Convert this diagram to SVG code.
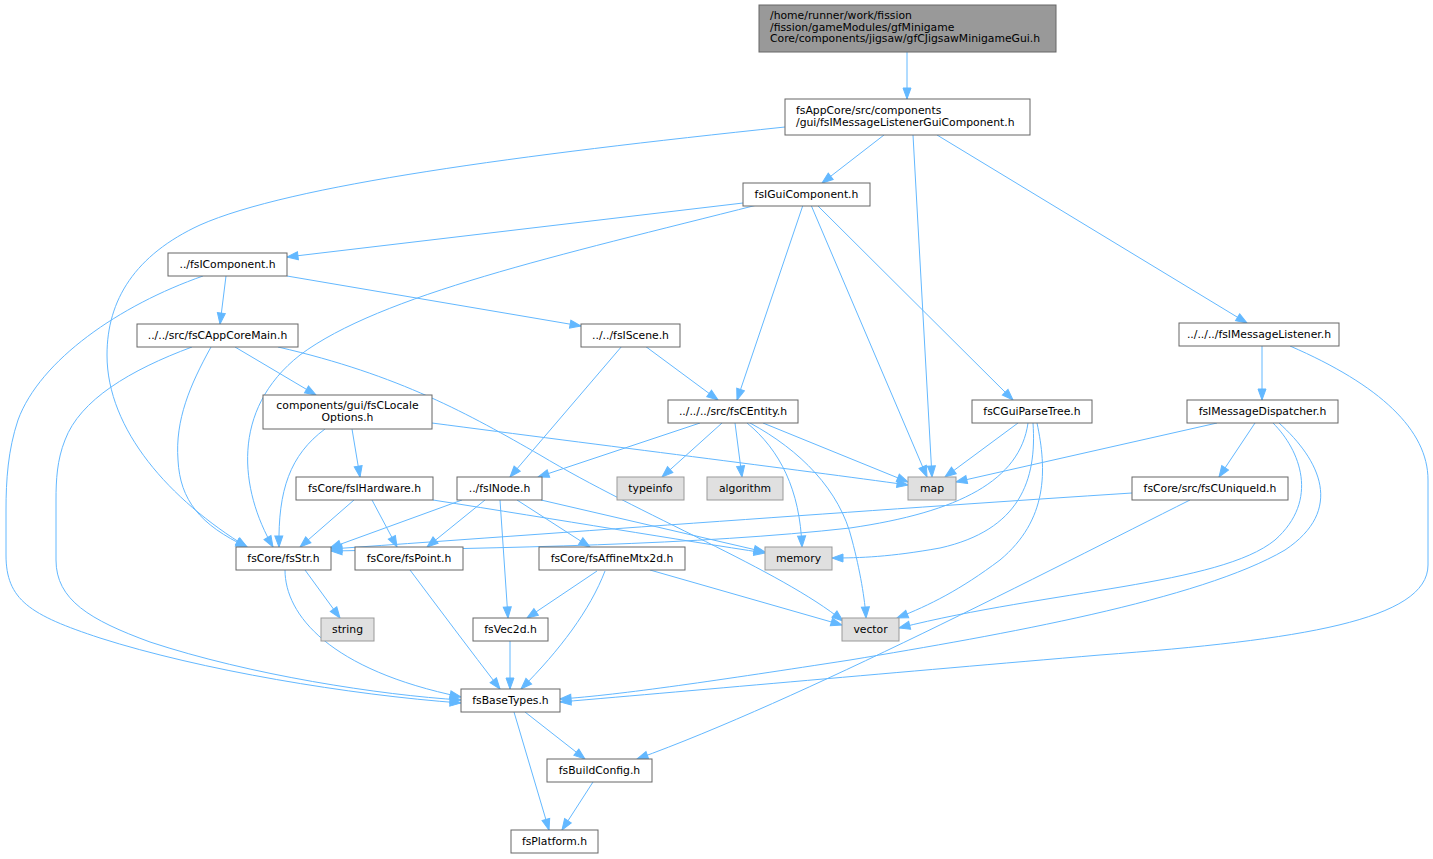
<svg xmlns="http://www.w3.org/2000/svg" width="1433" height="859" viewBox="0 0 1433 859">
<style>
.bg{fill:#ffffff}
.n rect{fill:#ffffff;stroke:#666666;stroke-width:1}
.root rect{fill:#999999;stroke:#666666;stroke-width:1}
.sys rect{fill:#e0e0e0;stroke:#999999;stroke-width:1}
text{font-family:"DejaVu Sans","Liberation Sans",sans-serif;font-size:10.8px;fill:#000000}
.c{text-anchor:middle}
#edges path{fill:none;stroke:#63b8ff;stroke-width:1;marker-end:url(#arr)}
</style>
<defs>
<marker id="arr" markerUnits="userSpaceOnUse" markerWidth="12" markerHeight="9" refX="11" refY="4" orient="auto" overflow="visible">
<path d="M0,0 L11,4 L0,8 Z" fill="#63b8ff" stroke="#63b8ff" stroke-width="1"/>
</marker>
</defs>
<rect class="bg" x="0" y="0" width="1433" height="859"/>
<g id="edges">
<path d="M907,52 L907,99"/>
<path d="M884,135 L822,183"/>
<path d="M913,135 L932,477"/>
<path d="M937,135 L1247,323"/>
<path d="M785,127 C520,155 290,185 200,225 C135,255 107,300 107,355 C107,430 170,500 247,547"/>
<path d="M743,203 L287,257"/>
<path d="M757,205 C560,255 380,295 300,355 C230,410 240,490 273,547"/>
<path d="M803,205 L737,400"/>
<path d="M811,205 L927,477"/>
<path d="M817,205 L1013,400"/>
<path d="M226,276 L220,324"/>
<path d="M287,276 L581,326"/>
<path d="M203,276 C120,305 40,360 18,420 C8,450 6,480 6,510 L6,555 C6,600 30,615 100,638 C200,670 350,695 461,703"/>
<path d="M192,347 C130,370 80,400 65,440 C57,460 56,480 56,500 L56,560 C56,600 90,620 150,642 C250,675 380,695 461,700"/>
<path d="M211,347 C190,385 175,420 178,460 C180,500 200,525 247,547"/>
<path d="M235,347 L316,395"/>
<path d="M278,347 C400,375 470,415 540,455 C640,515 780,570 843,621"/>
<path d="M325,429 C290,455 278,490 279,547"/>
<path d="M352,429 L360,477"/>
<path d="M432,423 C600,445 800,470 908,485"/>
<path d="M354,500 L300,547"/>
<path d="M372,500 L397,547"/>
<path d="M433,500 C560,520 680,540 765,553"/>
<path d="M622,346 L510,477"/>
<path d="M645,346 L718,400"/>
<path d="M700,423 L538,477"/>
<path d="M722,423 L662,477"/>
<path d="M735,423 L742,477"/>
<path d="M747,423 C780,450 800,490 802,547"/>
<path d="M750,423 C800,450 840,490 852,540 C860,570 865,600 866,618"/>
<path d="M763,423 L908,482"/>
<path d="M1018,423 L945,477"/>
<path d="M1217,423 L956,482"/>
<path d="M462,500 L330,548"/>
<path d="M485,500 L427,547"/>
<path d="M500,500 L508,618"/>
<path d="M517,500 L590,547"/>
<path d="M541,500 L765,552"/>
<path d="M650,570 L842,625"/>
<path d="M597,571 L527,618"/>
<path d="M605,571 C590,610 560,650 521,689"/>
<path d="M410,570 C440,610 470,650 500,689"/>
<path d="M305,570 L340,618"/>
<path d="M285,570 C285,615 330,670 461,697"/>
<path d="M510,641 L510,689"/>
<path d="M525,712 L585,759"/>
<path d="M514,712 L549,830"/>
<path d="M593,782 L562,830"/>
<path d="M1190,500 C1050,570 800,700 637,759"/>
<path d="M1132,493 C900,508 600,530 331,549"/>
<path d="M1028,423 C1020,480 960,512 850,528 C700,545 500,548 331,551"/>
<path d="M1033,423 C1037,480 1020,530 940,548 C890,557 860,558 832,558"/>
<path d="M1037,423 C1047,470 1048,520 1000,560 C960,590 930,605 897,618"/>
<path d="M1255,423 L1219,477"/>
<path d="M1273,423 C1300,450 1320,500 1275,540 C1220,585 1050,590 899,628"/>
<path d="M1279,423 C1320,460 1345,510 1285,550 C1200,600 1000,635 850,660 C720,680 620,695 560,699"/>
<path d="M1262,346 L1262,400"/>
<path d="M1290,346 C1380,385 1428,430 1428,480 L1428,565 C1428,620 1300,640 1100,655 C900,672 700,690 560,702"/>
</g>
<g id="node-root" class="root"><rect x="759" y="5" width="297" height="47"/><text x="770" y="19">/home/runner/work/fission</text><text x="770" y="30.5">/fission/gameModules/gfMinigame</text><text x="770" y="42">Core/components/jigsaw/gfCJigsawMinigameGui.h</text></g>
<g id="node-listenergui" class="n"><rect x="785" y="99" width="245" height="36"/><text x="796" y="113.5">fsAppCore/src/components</text><text x="796" y="125.5">/gui/fsIMessageListenerGuiComponent.h</text></g>
<g id="node-guicomponent" class="n"><rect x="743" y="183" width="127" height="23"/><text class="c" x="806.5" y="197.5">fsIGuiComponent.h</text></g>
<g id="node-component" class="n"><rect x="168" y="253" width="119" height="23"/><text class="c" x="227.5" y="267.5">../fsIComponent.h</text></g>
<g id="node-appcoremain" class="n"><rect x="137" y="324" width="161" height="23"/><text class="c" x="217.5" y="338.5">../../src/fsCAppCoreMain.h</text></g>
<g id="node-scene" class="n"><rect x="581" y="324" width="99" height="23"/><text class="c" x="630.5" y="338.5">../../fsIScene.h</text></g>
<g id="node-msglistener" class="n"><rect x="1179" y="323" width="160" height="23"/><text class="c" x="1259" y="337.5">../../../fsIMessageListener.h</text></g>
<g id="node-parsetree" class="n"><rect x="972" y="400" width="120" height="23"/><text class="c" x="1032" y="414.5">fsCGuiParseTree.h</text></g>
<g id="node-dispatcher" class="n"><rect x="1187" y="400" width="151" height="23"/><text class="c" x="1262.5" y="414.5">fsIMessageDispatcher.h</text></g>
<g id="node-entity" class="n"><rect x="668" y="400" width="130" height="23"/><text class="c" x="733" y="414.5">../../../src/fsCEntity.h</text></g>
<g id="node-locale" class="n"><rect x="263" y="395" width="169" height="34"/><text class="c" x="347.5" y="409">components/gui/fsCLocale</text><text class="c" x="347.5" y="420.5">Options.h</text></g>
<g id="node-uniqueid" class="n"><rect x="1132" y="477" width="156" height="23"/><text class="c" x="1210" y="491.5">fsCore/src/fsCUniqueId.h</text></g>
<g id="node-typeinfo" class="sys"><rect x="617" y="477" width="67" height="23"/><text class="c" x="650.5" y="491.5">typeinfo</text></g>
<g id="node-algorithm" class="sys"><rect x="707" y="477" width="76" height="23"/><text class="c" x="745" y="491.5">algorithm</text></g>
<g id="node-map" class="sys"><rect x="908" y="477" width="48" height="23"/><text class="c" x="932" y="491.5">map</text></g>
<g id="node-hardware" class="n"><rect x="296" y="477" width="137" height="23"/><text class="c" x="364.5" y="491.5">fsCore/fsIHardware.h</text></g>
<g id="node-inode" class="n"><rect x="457" y="477" width="85" height="23"/><text class="c" x="499.5" y="491.5">../fsINode.h</text></g>
<g id="node-str" class="n"><rect x="236" y="547" width="95" height="23"/><text class="c" x="283.5" y="561.5">fsCore/fsStr.h</text></g>
<g id="node-point" class="n"><rect x="355" y="547" width="108" height="23"/><text class="c" x="409" y="561.5">fsCore/fsPoint.h</text></g>
<g id="node-affine" class="n"><rect x="539" y="547" width="146" height="23"/><text class="c" x="612" y="561.5">fsCore/fsAffineMtx2d.h</text></g>
<g id="node-memory" class="sys"><rect x="765" y="547" width="67" height="23"/><text class="c" x="798.5" y="561.5">memory</text></g>
<g id="node-vector" class="sys"><rect x="842" y="618" width="57" height="23"/><text class="c" x="870.5" y="632.5">vector</text></g>
<g id="node-string" class="sys"><rect x="321" y="618" width="53" height="23"/><text class="c" x="347.5" y="632.5">string</text></g>
<g id="node-vec2d" class="n"><rect x="473" y="618" width="75" height="23"/><text class="c" x="510.5" y="632.5">fsVec2d.h</text></g>
<g id="node-basetypes" class="n"><rect x="461" y="689" width="99" height="23"/><text class="c" x="510.5" y="703.5">fsBaseTypes.h</text></g>
<g id="node-buildconfig" class="n"><rect x="547" y="759" width="105" height="23"/><text class="c" x="599.5" y="773.5">fsBuildConfig.h</text></g>
<g id="node-platform" class="n"><rect x="511" y="830" width="87" height="23"/><text class="c" x="554.5" y="844.5">fsPlatform.h</text></g>
</svg>
